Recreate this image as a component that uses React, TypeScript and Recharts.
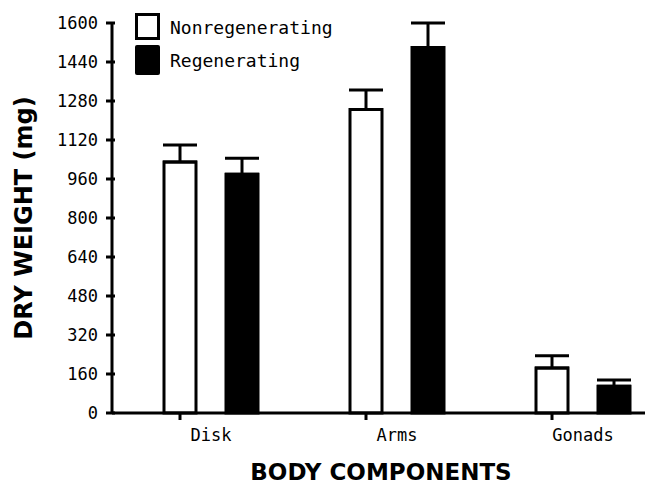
import React from 'react';
import { BarChart, Bar, XAxis, YAxis, ErrorBar, Legend } from 'recharts';

const components = ['Disk', 'Arms', 'Gonads'];
const nonregenerating = [1030, 1245, 185];
const regenerating = [980, 1500, 110];
const nonregenErr = [70, 80, 50];
const regenErr = [65, 100, 25];
const yTicks = [0, 160, 320, 480, 640, 800, 960, 1120, 1280, 1440, 1600];

const chartData = components.map((name, i) => ({
  name,
  nonregenerating: nonregenerating[i],
  regenerating: regenerating[i],
  // only the upper whisker is drawn
  nonregenErr: [0, nonregenErr[i]],
  regenErr: [0, regenErr[i]],
}));

const tickFont = '"DejaVu Sans Mono", monospace';
const titleFont = '"DejaVu Sans", sans-serif';

const YTick = (props: any) => {
  const { x, y, payload } = props;
  return (
    <g>
      <line x1={x + 8} x2={x + 17} y1={y} y2={y} stroke="#000" strokeWidth={3} />
      <text x={x} y={y} dy={6} textAnchor="end" fontFamily={tickFont} fontSize={17} fill="#000">
        {payload.value}
      </text>
    </g>
  );
};

const XTick = (props: any) => {
  const { x, y, payload } = props;
  return (
    <g>
      <line x1={x - 31} x2={x - 31} y1={y - 9} y2={y - 2} stroke="#000" strokeWidth={3} />
      <text x={x} y={y + 19} textAnchor="middle" fontFamily={tickFont} fontSize={17} fill="#000">
        {payload.value}
      </text>
    </g>
  );
};

const XTitle = (props: any) => {
  const { viewBox } = props;
  return (
    <text
      x={viewBox.x + viewBox.width / 2}
      y={viewBox.y + 67}
      textAnchor="middle"
      fontFamily={titleFont}
      fontWeight="bold"
      fontSize={23}
      fill="#000"
    >
      BODY COMPONENTS
    </text>
  );
};

const YTitle = (props: any) => {
  const { viewBox } = props;
  const cx = 24;
  const cy = viewBox.y + viewBox.height / 2;
  return (
    <text
      x={cx}
      y={cy}
      transform={`rotate(-90, ${cx}, ${cy})`}
      textAnchor="middle"
      fontFamily={titleFont}
      fontWeight="bold"
      fontSize={24}
      fill="#000"
    >
      DRY WEIGHT (mg)
    </text>
  );
};

const LegendBox = () => (
  <div style={{ position: 'absolute', left: 127, top: 3, fontFamily: tickFont, fontSize: 18, color: '#000' }}>
    <div style={{ display: 'flex', alignItems: 'center', height: 30 }}>
      <span style={{ width: 19, height: 21, border: '3px solid #000', background: '#fff', display: 'inline-block' }} />
      <span style={{ marginLeft: 10, marginTop: 3 }}>Nonregenerating</span>
    </div>
    <div style={{ display: 'flex', alignItems: 'center', height: 32, marginTop: 3 }}>
      <span style={{ width: 25, height: 30, background: '#000', display: 'inline-block', borderRadius: 2 }} />
      <span style={{ marginLeft: 10 }}>Regenerating</span>
    </div>
  </div>
);

export default function App() {
  return (
    <div style={{ position: 'relative', width: 645, height: 478, background: '#fff' }}>
      <BarChart
        width={645}
        height={478}
        data={chartData}
        margin={{ top: 15, right: 3, left: 0, bottom: 0 }}
        barSize={32}
        barGap={30}
      >
        <XAxis
          dataKey="name"
          height={73}
          padding={{ left: 6, right: -26 }}
          axisLine={{ stroke: '#000', strokeWidth: 3 }}
          tickLine={false}
          tickSize={7}
          tickMargin={2}
          tick={<XTick />}
          label={<XTitle />}
        />
        <YAxis
          width={104}
          domain={[0, 1600]}
          ticks={yTicks}
          interval={0}
          axisLine={{ stroke: '#000', strokeWidth: 3 }}
          tickLine={false}
          tickSize={6}
          tickMargin={8}
          tick={<YTick />}
          label={<YTitle />}
        />
        <Legend content={<LegendBox />} wrapperStyle={{ position: 'absolute', left: 0, top: 0, width: 0, height: 0 }} />
        <Bar dataKey="nonregenerating" name="Nonregenerating" fill="#fff" stroke="#000" strokeWidth={3} isAnimationActive={false}>
          <ErrorBar dataKey="nonregenErr" width={17} stroke="#000" strokeWidth={3} direction="y" />
        </Bar>
        <Bar dataKey="regenerating" name="Regenerating" fill="#000" stroke="#000" strokeWidth={3} isAnimationActive={false}>
          <ErrorBar dataKey="regenErr" width={17} stroke="#000" strokeWidth={3} direction="y" />
        </Bar>
      </BarChart>
    </div>
  );
}
